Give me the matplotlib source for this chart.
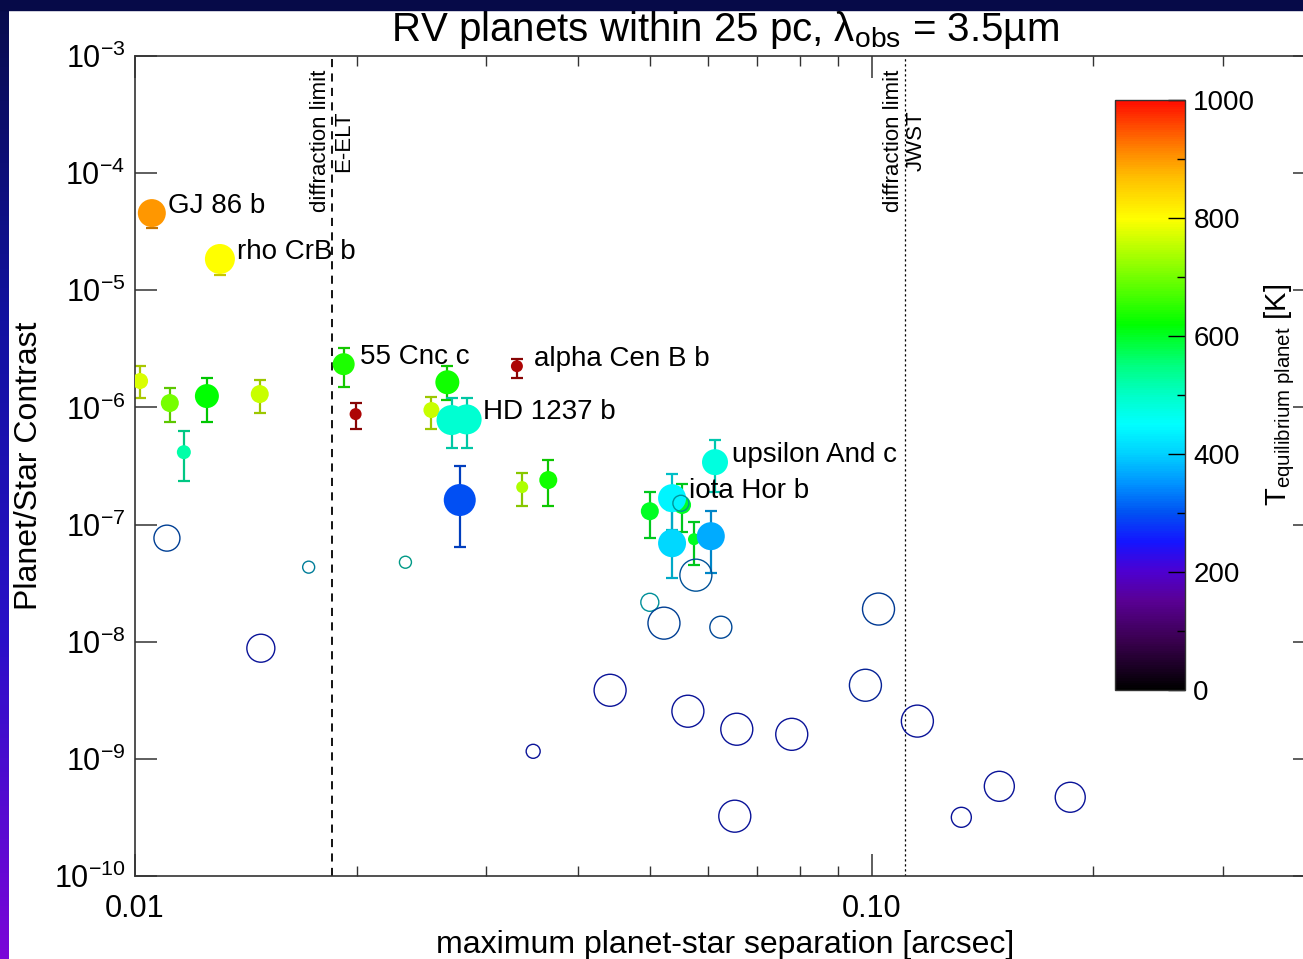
import numpy as np
import matplotlib
matplotlib.use('Agg')
import matplotlib.pyplot as plt
from matplotlib.colors import LinearSegmentedColormap, Normalize
from matplotlib.cm import ScalarMappable
from matplotlib.ticker import FixedLocator, NullLocator, FixedFormatter

plt.rcParams['font.family'] = ['Liberation Sans', 'DejaVu Sans']
plt.rcParams['mathtext.fontset'] = 'custom'
plt.rcParams['mathtext.rm'] = 'Liberation Sans'
plt.rcParams['mathtext.it'] = 'Liberation Sans:italic'
plt.rcParams['mathtext.bf'] = 'Liberation Sans:bold'
plt.rcParams['axes.unicode_minus'] = False

# planets with measured contrast (filled, with error bars)
sep = [0.01054, 0.01304, 0.01016, 0.01115, 0.01252, 0.01165, 0.01477, 0.01920,
       0.01993, 0.0330, 0.02655, 0.02526, 0.0269, 0.0282, 0.0276, 0.03355,
       0.0364, 0.0553, 0.0613, 0.0536, 0.0500, 0.0536, 0.0574, 0.0605]
contrast = [4.56e-5, 1.85e-5, 1.68e-6, 1.09e-6, 1.25e-6, 4.15e-7, 1.30e-6, 2.34e-6,
            8.77e-7, 2.25e-6, 1.64e-6, 9.5e-7, 7.8e-7, 7.9e-7, 1.62e-7, 2.09e-7,
            2.4e-7, 1.47e-7, 3.41e-7, 1.68e-7, 1.30e-7, 6.93e-8, 7.5e-8, 7.96e-8]
contrast_lo = [3.4e-5, 1.35e-5, 1.2e-6, 7.5e-7, 7.5e-7, 2.35e-7, 8.9e-7, 1.49e-6,
               6.53e-7, 1.8e-6, 1.15e-6, 6.53e-7, 4.5e-7, 4.5e-7, 6.4e-8, 1.44e-7,
               1.44e-7, 8.6e-8, 1.89e-7, 8.95e-8, 7.66e-8, 3.48e-8, 4.5e-8, 3.85e-8]
contrast_hi = [5.5e-5, 2.3e-5, 2.25e-6, 1.46e-6, 1.8e-6, 6.3e-7, 1.71e-6, 3.2e-6,
               1.09e-6, 2.58e-6, 2.25e-6, 1.22e-6, 1.2e-6, 1.2e-6, 3.15e-7, 2.75e-7,
               3.55e-7, 2.21e-7, 5.26e-7, 2.69e-7, 1.89e-7, 1.33e-7, 1.05e-7, 1.3e-7]
teq = [900, 800, 770, 700, 620, 520, 760, 640,
       1100, 1150, 630, 760, 490, 490, 300, 740,
       630, 600, 480, 440, 600, 410, 600, 370]
planet_size = [14, 15, 8, 9, 12, 7, 9, 11,
               6, 6, 12, 8, 15, 15, 16, 6,
               9, 9, 13, 14, 9, 14, 6, 14]
names = ['GJ 86 b', 'rho CrB b', '', '', '', '', '', '55 Cnc c',
         '', 'alpha Cen B b', '', '', '', 'HD 1237 b', '', '',
         '', '', 'upsilon And c', 'iota Hor b', '', '', '', '']

# planets with estimated contrast only (open circles)
sep_open = [0.01105, 0.01721, 0.02329, 0.01482, 0.03472, 0.04416, 0.0500, 0.05226,
            0.05632, 0.05774, 0.06243, 0.06562, 0.06521, 0.07792, 0.0981, 0.1022,
            0.1154, 0.1324, 0.1491, 0.1861, 0.0551]
contrast_open = [7.66e-8, 4.33e-8, 4.77e-8, 8.8e-9, 1.16e-9, 3.85e-9, 2.17e-8, 1.44e-8,
                 2.55e-9, 3.7e-8, 1.33e-8, 1.79e-9, 3.24e-10, 1.62e-9, 4.25e-9, 1.9e-8,
                 2.1e-9, 3.17e-10, 5.83e-10, 4.7e-10, 1.52e-7]
teq_open = [320, 400, 480, 260, 260, 260, 430, 320,
            260, 340, 330, 260, 260, 260, 280, 310,
            260, 260, 260, 260, 440]
size_open = [13, 6, 6, 14, 7, 16, 9, 16,
             16, 16, 11, 16, 16, 16, 16, 16,
             16, 10, 15, 15, 8]

elt_limit = 3.5e-6 / 39.0 * 206265.0
jwst_limit = 3.5e-6 / 6.5 * 206265.0

x_major = [0.01, 0.1]
x_major_labels = ['0.01', '0.10']
x_minor = [0.02, 0.03, 0.04, 0.05, 0.06, 0.07, 0.08, 0.09, 0.2, 0.3]
y_major = [1e-10, 1e-9, 1e-8, 1e-7, 1e-6, 1e-5, 1e-4, 1e-3]
cbar_ticks = [0, 200, 400, 600, 800, 1000]
cbar_minor = [100, 300, 500, 700, 900]

cmap = LinearSegmentedColormap.from_list('idl_rainbow', [
    (0.00, (0.0, 0.0, 0.0)),
    (0.08, (0.22, 0.0, 0.30)),
    (0.15, (0.35, 0.0, 0.58)),
    (0.20, (0.30, 0.0, 0.82)),
    (0.25, (0.08, 0.08, 1.0)),
    (0.30, (0.0, 0.32, 0.95)),
    (0.35, (0.0, 0.58, 1.0)),
    (0.40, (0.0, 0.82, 1.0)),
    (0.45, (0.0, 1.0, 1.0)),
    (0.50, (0.0, 1.0, 0.78)),
    (0.55, (0.0, 1.0, 0.5)),
    (0.62, (0.0, 1.0, 0.0)),
    (0.70, (0.45, 1.0, 0.0)),
    (0.80, (1.0, 1.0, 0.0)),
    (0.87, (1.0, 0.75, 0.0)),
    (0.92, (1.0, 0.5, 0.0)),
    (1.00, (1.0, 0.05, 0.0))], N=256)
cmap.set_over((0.68, 0.02, 0.02))
norm = Normalize(0, 1000)

fig = plt.figure(figsize=(13.03, 9.59), dpi=100, facecolor='white')

# slide frame: dark band on top, gradient strip on the left
strip = fig.add_axes([0, 0, 9 / 1303, 1])
frame_cmap = LinearSegmentedColormap.from_list('frame', ['#080c4c', '#1212a0', '#2a10c8', '#7a06d8'])
strip.imshow(np.linspace(0, 1, 200).reshape(-1, 1), aspect='auto', cmap=frame_cmap)
strip.axis('off')
fig.patches.append(plt.Rectangle((0, 1 - 10 / 959), 1, 10 / 959, transform=fig.transFigure,
                                 color='#060a48', zorder=10))

ax = fig.add_axes([135 / 1303, 83 / 959, 1180 / 1303, 820 / 959])
ax.set_xscale('log')
ax.set_yscale('log')
ax.set_xlim(0.01, 0.4)
ax.set_ylim(1e-10, 1e-3)

for x, c, lo, hi, t in zip(sep, contrast, contrast_lo, contrast_hi, teq):
    col = np.array(cmap(norm(t))[:3]) * 0.78
    ax.errorbar([x], [c], yerr=[[c - lo], [hi - c]], fmt='none', ecolor=col,
                elinewidth=1.6, capsize=4.5, capthick=1.6, zorder=2)
ax.scatter(sep, contrast, s=(np.array(planet_size) * 1.44) ** 2, c=teq, cmap=cmap,
           norm=norm, edgecolors='none', zorder=3)

edge_open = [np.array(cmap(norm(t))[:3]) * 0.6 for t in teq_open]
ax.scatter(sep_open, contrast_open, s=(np.array(size_open) * 1.44) ** 2,
           facecolors='none', edgecolors=edge_open, linewidths=1.0, zorder=3)

for x, c, n in zip(sep, contrast, names):
    if n:
        ax.annotate(n, (x, c), xytext=(12, 5), textcoords='offset points',
                    fontsize=20, va='center', ha='left', zorder=4)

ax.axvline(elt_limit, color='black', lw=1.3, ls=(0, (4.5, 3.5)), zorder=1)
ax.axvline(jwst_limit, color='black', lw=0.9, ls=(0, (1.8, 2.2)), zorder=1)
ax.text(elt_limit, 7.6e-4, 'diffraction limit\nE-ELT', rotation=90, ha='center', va='top',
        multialignment='center', fontsize=16, linespacing=1.1)
ax.text(jwst_limit, 7.6e-4, 'diffraction limit\nJWST', rotation=90, ha='center', va='top',
        multialignment='center', fontsize=16, linespacing=1.1)

ax.xaxis.set_major_locator(FixedLocator(x_major))
ax.xaxis.set_major_formatter(FixedFormatter(x_major_labels))
ax.xaxis.set_minor_locator(FixedLocator(x_minor))
ax.xaxis.set_minor_formatter(FixedFormatter([''] * len(x_minor)))
ax.yaxis.set_major_locator(FixedLocator(y_major))
ax.yaxis.set_minor_locator(NullLocator())
ax.tick_params(which='both', direction='in', top=True, right=True, color='#333333')
ax.tick_params(which='major', length=16, width=1.1)
ax.tick_params(which='minor', length=7, width=1.0)
ax.tick_params(axis='x', which='major', labelsize=22, pad=13)
ax.tick_params(axis='y', which='major', labelsize=22, pad=7)
for sp in ax.spines.values():
    sp.set_color('#333333')
    sp.set_linewidth(1.2)

ax.set_title('RV planets within 25 pc, λ$_{\\rm obs}$ = 3.5µm', fontsize=29, pad=11)
ax.set_xlabel('maximum planet-star separation [arcsec]', fontsize=23)
ax.xaxis.set_label_coords(0.5, -0.066)
ax.set_ylabel('Planet/Star Contrast', fontsize=23)
ax.yaxis.set_label_coords(-0.077, 0.5)

cax = fig.add_axes([1115 / 1303, 269 / 959, 70 / 1303, 590 / 959])
cb = fig.colorbar(ScalarMappable(norm=norm, cmap=cmap), cax=cax, ticks=cbar_ticks)
cb.outline.set_linewidth(1.0)
cb.outline.set_edgecolor('#333333')
cax.yaxis.set_minor_locator(FixedLocator(cbar_minor))
cax.tick_params(which='both', direction='in', right=True, color='black')
cax.tick_params(which='major', length=12, width=1.0, labelsize=20, pad=6)
cax.tick_params(which='minor', length=6, width=1.0)
cax.set_ylabel('T$_{\\rm equilibrium\\ planet}$ [K]', fontsize=21)
cax.yaxis.set_label_coords(2.1, 0.5)

fig.savefig('out.png', dpi=100, facecolor='white')
